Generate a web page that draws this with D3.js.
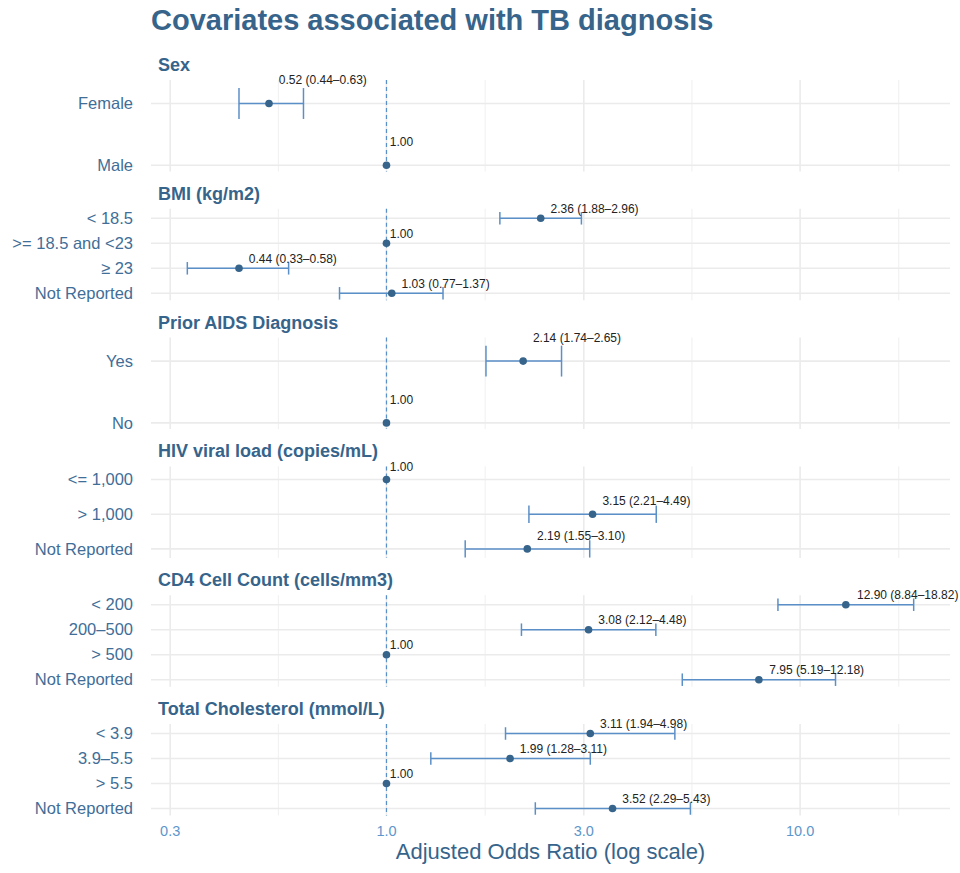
<!DOCTYPE html>
<html>
<head>
<meta charset="utf-8">
<script src="https://cdn.jsdelivr.net/npm/d3@7"></script>
<style>
  body { margin: 0; background: #fff; }
  svg { font-family: "Liberation Sans", Arial, sans-serif; }
</style>
</head>
<body>
<svg width="960" height="873"></svg>
<script>
const panels = ['Sex', 'BMI (kg/m2)', 'Prior AIDS Diagnosis', 'HIV viral load (copies/mL)',
  'CD4 Cell Count (cells/mm3)', 'Total Cholesterol (mmol/L)']
const rowPanel = [0, 0, 1, 1, 1, 1, 2, 2, 3, 3, 3, 4, 4, 4, 4, 5, 5, 5, 5]
const rowLabels = ['Female', 'Male', '< 18.5', '>= 18.5 and <23', '≥ 23', 'Not Reported',
  'Yes', 'No', '<= 1,000', '> 1,000', 'Not Reported', '< 200', '200–500', '> 500', 'Not Reported',
  '< 3.9', '3.9–5.5', '> 5.5', 'Not Reported']
const oddsRatio = [0.52, 1, 2.36, 1, 0.44, 1.03, 2.14, 1, 1, 3.15, 2.19, 12.90, 3.08, 1, 7.95, 3.11, 1.99, 1, 3.52]
const ciLower = [0.44, null, 1.88, null, 0.33, 0.77, 1.74, null, null, 2.21, 1.55, 8.84, 2.12, null, 5.19, 1.94, 1.28, null, 2.29]
const ciUpper = [0.63, null, 2.96, null, 0.58, 1.37, 2.65, null, null, 4.49, 3.10, 18.82, 4.48, null, 12.18, 4.98, 3.11, null, 5.43]
const xTicks = [0.3, 1, 3, 10]
const xBreaksAll = [0.1, 0.3, 1, 3, 10, 30]

const svg = d3.select('svg')
const left = 151, right = 950
const panelTop0 = 80, panelStep = 128.8, panelH = 91.5
const nudge = 0.38

const rows = rowLabels.map((label, i) => ({
  label, panel: rowPanel[i], or: oddsRatio[i], lo: ciLower[i], hi: ciUpper[i]
}))

// log x with 5% expansion in log space, like ggplot
const lmin = Math.log10(d3.min(rows, d => d.lo ?? d.or))
const lmax = Math.log10(d3.max(rows, d => d.hi ?? d.or))
const pad = (lmax - lmin) * 0.05
const x = d3.scaleLog()
  .domain([Math.pow(10, lmin - pad), Math.pow(10, lmax + pad)])
  .range([left, right])

const minor = d3.pairs(xBreaksAll).map(([a, b]) => Math.sqrt(a * b))
  .filter(v => v > x.domain()[0] && v < x.domain()[1])

svg.append('text')
  .attr('x', left)
  .attr('y', 30)
  .attr('fill', '#36648B')
  .style('font-size', '29px')
  .style('font-weight', 'bold')
  .text('Covariates associated with TB diagnosis')

const bottomPad = n => n === 2 ? 0.1 : (n === 3 ? 0.26 : 0.28)

panels.forEach((name, p) => {
  const pr = rows.filter(d => d.panel === p)
  const n = pr.length
  const top = panelTop0 + p * panelStep
  const bottom = top + panelH
  // first row at top
  const y = d3.scaleLinear()
    .domain([-nudge, n - 1 + bottomPad(n)])
    .range([top, bottom])
  const unit = y(1) - y(0)
  const g = svg.append('g')

  g.append('text')
    .attr('x', left + 7)
    .attr('y', top - 9)
    .attr('fill', '#36648B')
    .style('font-size', '18px')
    .style('font-weight', 'bold')
    .text(name)

  g.selectAll('.minor').data(minor).enter().append('line')
    .attr('x1', d => x(d)).attr('x2', d => x(d))
    .attr('y1', top).attr('y2', bottom)
    .attr('stroke', '#ebebeb').attr('stroke-width', 0.8)
  g.selectAll('.major').data(xTicks).enter().append('line')
    .attr('x1', d => x(d)).attr('x2', d => x(d))
    .attr('y1', top).attr('y2', bottom)
    .attr('stroke', '#ebebeb').attr('stroke-width', 1.6)
  g.selectAll('.hgrid').data(pr).enter().append('line')
    .attr('x1', left).attr('x2', right)
    .attr('y1', (d, i) => y(i)).attr('y2', (d, i) => y(i))
    .attr('stroke', '#ebebeb').attr('stroke-width', 1.6)

  g.append('line')
    .attr('x1', x(1)).attr('x2', x(1))
    .attr('y1', top).attr('y2', bottom)
    .attr('stroke', '#5b8fc7').attr('stroke-width', 1.2)
    .attr('stroke-dasharray', '4,3')

  g.selectAll('.ylab').data(pr).enter().append('text')
    .attr('x', 133)
    .attr('y', (d, i) => y(i))
    .attr('dy', '0.35em')
    .attr('text-anchor', 'end')
    .attr('fill', '#3f6e98')
    .style('font-size', '16.5px')
    .text(d => d.label)

  const ci = pr.map((d, i) => ({...d, i})).filter(d => d.lo != null)
  const cap = unit * 0.25
  ci.forEach(d => {
    const yy = y(d.i)
    g.append('line')
      .attr('x1', x(d.lo)).attr('x2', x(d.hi))
      .attr('y1', yy).attr('y2', yy)
      .attr('stroke', '#5b8fc7').attr('stroke-width', 1.5)
    ;[d.lo, d.hi].forEach(v => {
      g.append('line')
        .attr('x1', x(v)).attr('x2', x(v))
        .attr('y1', yy - cap).attr('y2', yy + cap)
        .attr('stroke', '#5b8fc7').attr('stroke-width', 1.5)
    })
  })

  g.selectAll('.pt').data(pr).enter().append('circle')
    .attr('cx', d => x(d.or))
    .attr('cy', (d, i) => y(i))
    .attr('r', 3.8)
    .attr('fill', '#36648B')

  g.selectAll('.lab').data(pr).enter().append('text')
    .attr('x', d => x(d.or))
    .attr('y', (d, i) => y(i) - nudge * unit)
    .attr('dy', '0.35em')
    .attr('fill', '#222')
    .style('font-size', '12px')
    .text(d => d.lo == null ? d.or.toFixed(2)
      : `${d.or.toFixed(2)} (${d.lo.toFixed(2)}–${d.hi.toFixed(2)})`)
    .attr('dx', function () { return this.getComputedTextLength() * 0.1 + 1 })
})

const lastBottom = panelTop0 + (panels.length - 1) * panelStep + panelH
svg.selectAll('.xtick').data(xTicks).enter().append('text')
  .attr('x', d => x(d))
  .attr('y', lastBottom + 20)
  .attr('text-anchor', 'middle')
  .attr('fill', '#5d96cc')
  .style('font-size', '14.5px')
  .text(d => d.toFixed(1))

svg.append('text')
  .attr('x', (left + right) / 2)
  .attr('y', lastBottom + 43)
  .attr('text-anchor', 'middle')
  .attr('fill', '#36648B')
  .style('font-size', '22px')
  .text('Adjusted Odds Ratio (log scale)')
</script>
</body>
</html>
